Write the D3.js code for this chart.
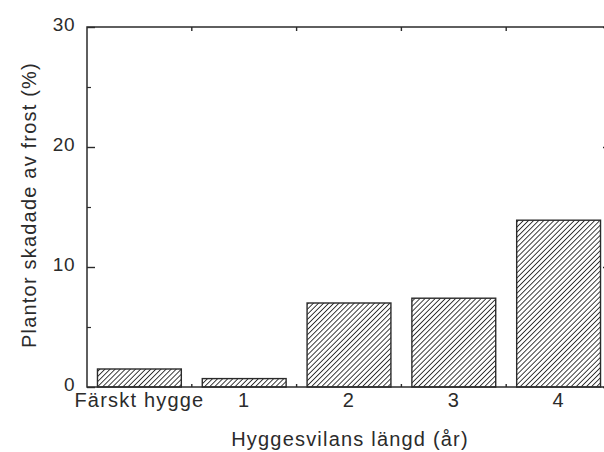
<!DOCTYPE html>
<html><head><meta charset="utf-8">
<script src="https://cdn.jsdelivr.net/npm/d3@7"></script>
<style>body{margin:0;background:#fff}</style>
</head><body>
<svg id="c" width="604" height="452"></svg>
<script>
const categories = ["Färskt hygge", "1", "2", "3", "4"];
const values = [1.5, 0.7, 7.0, 7.4, 13.9];
const yTicks = [0, 10, 20, 30];
const yMinorTicks = [5, 15, 25];
const xTitle = "Hyggesvilans längd (år)";
const yTitle = "Plantor skadade av frost (%)";

const ink = "#2b2b2b";
const svg = d3.select("#c");
const L = 87, R = 611, T = 27, B = 387;
const x = d3.scaleBand().domain(categories).range([L, R]).paddingInner(0.2).paddingOuter(0.1);
const y = d3.scaleLinear().domain([0, 30]).range([B, T]);

const defs = svg.append("defs");
const pat = defs.append("pattern").attr("id", "hatch").attr("patternUnits", "userSpaceOnUse")
  .attr("width", 3.6).attr("height", 3.6).attr("patternTransform", "rotate(45)");
pat.append("line").attr("x1", 0).attr("y1", 0).attr("x2", 0).attr("y2", 3.6)
  .attr("stroke", ink).attr("stroke-width", 1.8);

svg.append("g").selectAll("rect").data(values).join("rect")
  .attr("x", (d, i) => x(categories[i]))
  .attr("y", d => y(d))
  .attr("width", x.bandwidth())
  .attr("height", d => B - y(d))
  .attr("fill", "url(#hatch)")
  .attr("stroke", ink).attr("stroke-width", 1.4);

// frame
svg.append("rect").attr("x", L).attr("y", T).attr("width", R - L).attr("height", B - T)
  .attr("fill", "none").attr("stroke", ink).attr("stroke-width", 1.5);

const font = "'Liberation Sans', Arial, sans-serif";
// left axis
const yAxis = d3.axisLeft(y).tickValues(yTicks).tickSize(-8).tickPadding(12);
const gy = svg.append("g").attr("transform", `translate(${L},0)`).call(yAxis);
gy.select(".domain").remove();
gy.selectAll("line").attr("stroke", ink).attr("stroke-width", 1.4);
gy.selectAll("text").attr("fill", ink).attr("y", -3).style("font-family", font)
  .style("font-size", "19px").style("letter-spacing", "0.5px");
const gym = svg.append("g").attr("transform", `translate(${L},0)`).call(d3.axisLeft(y).tickValues(yMinorTicks).tickSize(-4).tickFormat(""));
gym.select(".domain").remove();
gym.selectAll("line").attr("stroke", ink).attr("stroke-width", 1.2);
// right axis mirrored
const gr = svg.append("g").attr("transform", `translate(${R},0)`).call(d3.axisRight(y).tickValues(yTicks).tickSize(-8).tickFormat(""));
gr.select(".domain").remove();
gr.selectAll("line").attr("stroke", ink).attr("stroke-width", 1.4);

// bottom axis
const bounds = categories.slice(1).map(c => x(c) - x.step() * x.paddingInner() / 2);
const gx = svg.append("g").attr("transform", `translate(0,${B})`).call(d3.axisBottom(x).tickSize(0).tickPadding(6));
gx.select(".domain").remove();
gx.selectAll("text").attr("fill", ink).style("font-family", font)
  .style("font-size", "20px").style("letter-spacing", "1.2px");
svg.append("g").selectAll("line").data(bounds).join("line")
  .attr("x1", d => d).attr("x2", d => d).attr("y1", B).attr("y2", B - 3)
  .attr("stroke", ink).attr("stroke-width", 1.4);
svg.append("g").selectAll("line").data(bounds).join("line")
  .attr("x1", d => d).attr("x2", d => d).attr("y1", T).attr("y2", T + 4)
  .attr("stroke", ink).attr("stroke-width", 1.4);

svg.append("text").attr("x", 350).attr("y", 446).attr("text-anchor", "middle")
  .attr("fill", ink).style("font-family", font).style("font-size", "20px")
  .style("letter-spacing", "1.2px").text(xTitle);
svg.append("text").attr("transform", "translate(36,205) rotate(-90)").attr("text-anchor", "middle")
  .attr("fill", ink).style("font-family", font).style("font-size", "20px")
  .style("letter-spacing", "1.2px").text(yTitle);
</script>
</body></html>
